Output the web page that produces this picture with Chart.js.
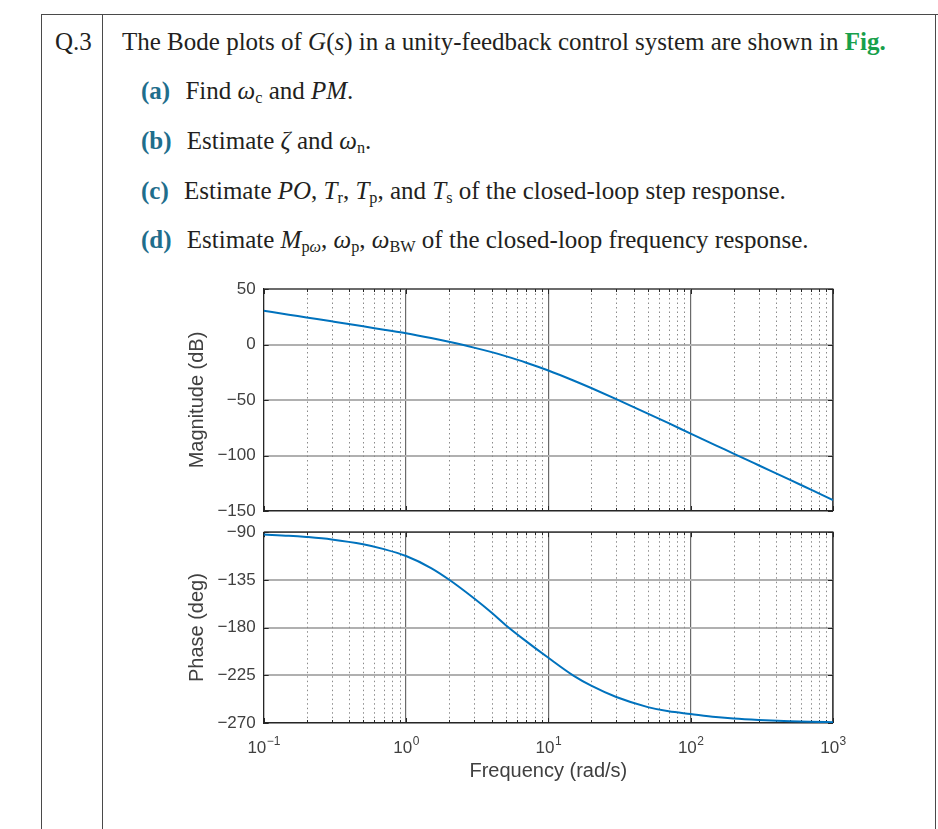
<!DOCTYPE html>
<html>
<head>
<meta charset="utf-8">
<script src="https://cdn.jsdelivr.net/npm/chart.js@4.4.0/dist/chart.umd.min.js"></script>
<style>
body { margin: 0; background: #fff; width: 938px; height: 829px; overflow: hidden; position: relative;
       font-family: "Liberation Serif", "Times New Roman", serif; color: #231f20; }
.ln { position: absolute; background: #4a4a4a; }
.q { position: absolute; font-size: 25px; line-height: 1; white-space: nowrap; }
.lb { color: #1f6e8c; font-weight: bold; margin-right: 9px; }
.fig { color: #17a04b; font-weight: bold; }
sub { font-size: 65%; vertical-align: -0.25em; line-height: 0; font-style: normal; }
.box { position: absolute; }
</style>
</head>
<body>
<div class="ln" style="left:41px;top:14px;width:897px;height:1px"></div>
<div class="ln" style="left:41px;top:14px;width:1px;height:815px"></div>
<div class="ln" style="left:102px;top:14px;width:1px;height:815px"></div>
<div class="ln" style="left:935px;top:14px;width:1px;height:815px"></div>

<div class="q" style="left:55px;top:29px">Q.3</div>
<div class="q" style="left:122px;top:29px">The Bode plots of <i>G</i>(<i>s</i>) in a unity-feedback control system are shown in <span class="fig">Fig.</span></div>
<div class="q" style="left:141px;top:78px"><span class="lb">(a)</span> Find <i>ω</i><sub>c</sub> and <i>PM</i>.</div>
<div class="q" style="left:141px;top:128px"><span class="lb">(b)</span> Estimate <i>ζ</i> and <i>ω</i><sub>n</sub>.</div>
<div class="q" style="left:141px;top:178px"><span class="lb">(c)</span> Estimate <i>PO</i>, <i>T</i><sub>r</sub>, <i>T</i><sub>p</sub>, and <i>T</i><sub>s</sub> of the closed-loop step response.</div>
<div class="q" style="left:141px;top:227px"><span class="lb">(d)</span> Estimate <i>M</i><sub>p<i>ω</i></sub>, <i>ω</i><sub>p</sub>, <i>ω</i><sub>BW</sub> of the closed-loop frequency response.</div>

<div class="box" style="left:150px;top:270px;width:700px;height:260px"><canvas id="magChart"></canvas></div>
<div class="box" style="left:150px;top:514px;width:700px;height:286px"><canvas id="phaseChart"></canvas></div>

<script>
// values
const freq = [0.1, 0.15, 0.2, 0.3, 0.5, 0.7, 1, 1.5, 2, 3, 4, 5, 7, 10, 15, 20, 30, 50, 70, 100, 150, 200, 300, 500, 700, 1000];
const magDb = [30.4, 26.9, 24.4, 20.9, 16.4, 13.3, 10.1, 5.8, 2.4, -2.8, -6.9, -10.5, -16.4, -23.4, -32.4, -39.2, -49.2, -62.2, -70.9, -80.3, -90.8, -98.3, -108.8, -122.0, -130.8, -140.1];
const phaseDeg = [-92.2, -93.3, -94.5, -96.8, -101.4, -106.0, -112.5, -123.8, -134.6, -152.3, -166.0, -177.5, -193.0, -208.5, -225.3, -234.8, -245.5, -255.0, -259.0, -261.5, -264.3, -265.8, -267.2, -268.4, -268.9, -269.3];

const decades = [0.1, 1, 10, 100, 1000];
const decadeExp = ['\u22121', '0', '1', '2', '3'];
const minorFreq = [0.2, 0.3, 0.4, 0.5, 0.6, 0.7, 0.8, 0.9,
                   2, 3, 4, 5, 6, 7, 8, 9,
                   20, 30, 40, 50, 60, 70, 80, 90,
                   200, 300, 400, 500, 600, 700, 800, 900];
const magTicks = [50, 0, -50, -100, -150];
const phaseTicks = [-90, -135, -180, -225, -270];

const sansFont = '"Liberation Sans", Arial, sans-serif';
const labelColor = '#404040';

const fmtTick = (v) => v < 0 ? '\u2212' + Math.abs(v) : String(v);

// dotted minor grid, inside tick marks and the box round the plot
const bodeFrame = {
    id: 'bodeFrame',
    beforeDatasetsDraw(chart) {
        const { ctx, chartArea: a, scales: { x, y } } = chart;
        ctx.save();
        ctx.strokeStyle = '#8a8a8a';
        ctx.lineWidth = 1;
        ctx.setLineDash([1.5, 3]);
        minorFreq.forEach(f => {
            const px = Math.round(x.getPixelForValue(f)) + 0.5;
            ctx.beginPath();
            ctx.moveTo(px, a.top);
            ctx.lineTo(px, a.bottom);
            ctx.stroke();
        });
        ctx.setLineDash([]);

        ctx.strokeStyle = '#262626';
        minorFreq.forEach(f => {
            const px = Math.round(x.getPixelForValue(f)) + 0.5;
            ctx.beginPath();
            ctx.moveTo(px, a.top); ctx.lineTo(px, a.top + 3);
            ctx.moveTo(px, a.bottom); ctx.lineTo(px, a.bottom - 3);
            ctx.stroke();
        });
        decades.forEach(f => {
            const px = Math.round(x.getPixelForValue(f)) + 0.5;
            ctx.beginPath();
            ctx.moveTo(px, a.top); ctx.lineTo(px, a.top + 5);
            ctx.moveTo(px, a.bottom); ctx.lineTo(px, a.bottom - 5);
            ctx.stroke();
        });
        y.ticks.forEach(t => {
            const py = Math.round(y.getPixelForValue(t.value)) + 0.5;
            ctx.beginPath();
            ctx.moveTo(a.left, py); ctx.lineTo(a.left + 5, py);
            ctx.moveTo(a.right, py); ctx.lineTo(a.right - 5, py);
            ctx.stroke();
        });

        ctx.lineWidth = 1.2;
        ctx.beginPath();
        ctx.moveTo(a.left, a.top);
        ctx.lineTo(a.right, a.top);
        ctx.lineTo(a.right, a.bottom);
        ctx.stroke();
        ctx.restore();
    }
};

// 10^n labels under the phase plot
const decadeLabels = {
    id: 'decadeLabels',
    afterDraw(chart, args, opts) {
        if (!opts.show) return;
        const { ctx, chartArea: a, scales: { x } } = chart;
        const baseFont = '17px ' + sansFont;
        const supFont = '12px ' + sansFont;
        ctx.save();
        ctx.fillStyle = labelColor;
        ctx.textAlign = 'left';
        ctx.textBaseline = 'alphabetic';
        decades.forEach((f, i) => {
            const px = x.getPixelForValue(f);
            ctx.font = baseFont;
            const wb = ctx.measureText('10').width;
            ctx.font = supFont;
            const ws = ctx.measureText(decadeExp[i]).width;
            const start = px - (wb + ws) / 2;
            ctx.font = baseFont;
            ctx.fillText('10', start, a.bottom + 30);
            ctx.font = supFont;
            ctx.fillText(decadeExp[i], start + wb + 0.5, a.bottom + 22);
        });
        ctx.restore();
    }
};

const makeBode = (canvasId, values, yMin, yMax, yTicks, yTitle, showX, padTop, padBottom) => {
    new Chart(document.getElementById(canvasId), {
        type: 'line',
        data: {
            labels: freq,
            datasets: [{
                data: freq.map((f, i) => ({ x: f, y: values[i] })),
                borderColor: '#0072bd',
                borderWidth: 2,
                pointRadius: 0,
                cubicInterpolationMode: 'monotone',
                fill: false,
            }]
        },
        options: {
            responsive: true,
            maintainAspectRatio: false,
            animation: false,
            layout: { padding: { left: 0, right: 17, top: padTop, bottom: padBottom } },
            plugins: {
                legend: { display: false },
                tooltip: { enabled: false },
                decadeLabels: { show: showX },
            },
            scales: {
                x: {
                    type: 'logarithmic',
                    min: 0.1,
                    max: 1000,
                    afterBuildTicks: (s) => { s.ticks = decades.map(v => ({ value: v })); },
                    afterFit: (s) => { s.height = showX ? 77 : 0; },
                    ticks: { display: false },
                    grid: { color: '#6a6a6a', lineWidth: 1.2, drawTicks: false },
                    border: { color: '#262626', width: 1.2 },
                    title: {
                        display: showX,
                        text: 'Frequency (rad/s)',
                        color: labelColor,
                        font: { family: sansFont, size: 20 },
                        padding: { top: 0, bottom: 17 },
                    },
                },
                y: {
                    min: yMin,
                    max: yMax,
                    afterBuildTicks: (s) => { s.ticks = yTicks.map(v => ({ value: v })); },
                    afterFit: (s) => { s.width = 113.7; },
                    ticks: {
                        callback: fmtTick,
                        color: labelColor,
                        font: { family: sansFont, size: 17 },
                        padding: 8,
                    },
                    grid: { color: '#b0b0b0', lineWidth: 2, drawTicks: false },
                    border: { color: '#262626', width: 1.2 },
                    title: {
                        display: true,
                        text: yTitle,
                        color: labelColor,
                        font: { family: sansFont, size: 20 },
                        padding: { top: 35, bottom: 0 },
                    },
                },
            },
        },
        plugins: [bodeFrame, decadeLabels],
    });
};

makeBode('magChart', magDb, -150, 50, magTicks, 'Magnitude (dB)', false, 19, 19);
makeBode('phaseChart', phaseDeg, -270, -90, phaseTicks, 'Phase (deg)', true, 18.2, 0);
</script>
</body>
</html>
